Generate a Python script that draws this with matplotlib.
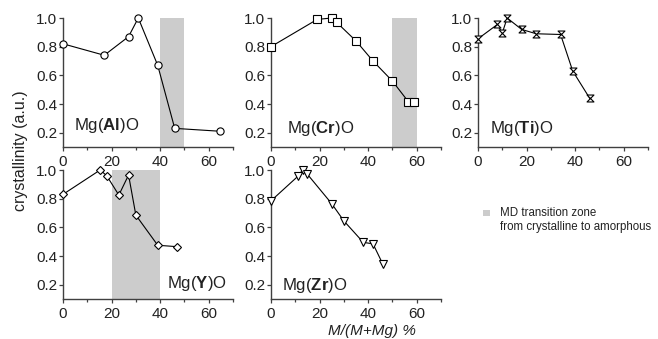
import matplotlib
matplotlib.use('Agg')
import matplotlib.pyplot as plt
from matplotlib.path import Path
from matplotlib.patches import Rectangle
from matplotlib.ticker import MultipleLocator

plt.rcParams['font.family'] = ['Liberation Sans', 'DejaVu Sans']
plt.rcParams['mathtext.fontset'] = 'custom'
plt.rcParams['mathtext.rm'] = 'Liberation Sans'
plt.rcParams['mathtext.bf'] = 'Liberation Sans:bold'
plt.rcParams['mathtext.it'] = 'Liberation Sans:italic'

# ---- data ----
al_x = [0, 17, 27, 31, 39, 46, 64.5]
al_y = [0.82, 0.74, 0.87, 1.0, 0.67, 0.23, 0.21]
cr_x = [0, 19, 25, 27, 35, 42, 50, 56.6, 58.8]
cr_y = [0.80, 0.99, 1.0, 0.97, 0.84, 0.70, 0.56, 0.415, 0.415]
ti_x = [0, 8, 10, 12, 18, 24, 34, 39, 46]
ti_y = [0.855, 0.955, 0.895, 1.0, 0.92, 0.89, 0.885, 0.63, 0.44]
y_x = [0, 15.3, 18, 23, 27, 30, 39, 47]
y_y = [0.83, 1.0, 0.96, 0.825, 0.965, 0.685, 0.475, 0.465]
zr_x = [0, 11, 13, 15, 25, 30, 38, 42, 46]
zr_y = [0.785, 0.955, 1.0, 0.97, 0.765, 0.645, 0.495, 0.485, 0.345]

al_zone = (40, 50)
cr_zone = (50, 60)
y_zone = (20, 40)

x_ticks = [0, 20, 40, 60]
y_ticks = [0.2, 0.4, 0.6, 0.8, 1.0]
y_ticklabels = ['0.2', '0.4', '0.6', '0.8', '1.0']

labels = [r'Mg($\mathbf{Al}$)O', r'Mg($\mathbf{Cr}$)O', r'Mg($\mathbf{Ti}$)O',
          r'Mg($\mathbf{Y}$)O', r'Mg($\mathbf{Zr}$)O']

hourglass = Path([(-1, 1), (1, 1), (-1, -1), (1, -1), (-1, 1)],
                 [Path.MOVETO, Path.LINETO, Path.LINETO, Path.LINETO, Path.CLOSEPOLY])

W, H = 658, 339
fig = plt.figure(figsize=(W / 100, H / 100), dpi=100)

def fx(px):
    return px / W

def fy(py):
    return 1 - py / H

axw = 170 / W
top_b, top_t = fy(147), fy(18)
bot_b, bot_t = fy(299), fy(170)
lefts = [fx(63), fx(271), fx(478)]

panels = [
    (lefts[0], top_b, top_t, al_x, al_y, 'o', 5.2, al_zone, labels[0], 4.5, 0.216),
    (lefts[1], top_b, top_t, cr_x, cr_y, 's', 5.2, cr_zone, labels[1], 6.6, 0.198),
    (lefts[2], top_b, top_t, ti_x, ti_y, hourglass, 5.0, None, labels[2], 4.9, 0.198),
    (lefts[0], bot_b, bot_t, y_x, y_y, 'D', 4.2, y_zone, labels[3], 42.7, 0.177),
    (lefts[1], bot_b, bot_t, zr_x, zr_y, 'v', 5.6, None, labels[4], 4.5, 0.166),
]

axc = '#404040'
txtc = '#222222'
for (l, b, t, xs, ys, mk, ms, zone, lab, lx, ly) in panels:
    ax = fig.add_axes([l, b, axw, t - b])
    ax.set_xlim(0, 70)
    ax.set_ylim(0.1, 1.0)
    if zone is not None:
        ax.axvspan(zone[0], zone[1], ymin=0, ymax=1, color='#cccccc', lw=0, zorder=0)
    ax.plot(xs, ys, color='black', lw=0.8, marker=mk, ms=ms, mfc='white',
            mec='black', mew=0.8, clip_on=False, zorder=3)
    ax.text(lx, ly, lab, fontsize=12.1, color=txtc, ha='left', va='baseline')
    for s in ['top', 'right']:
        ax.spines[s].set_visible(False)
    for s in ['left', 'bottom']:
        ax.spines[s].set_color(axc)
        ax.spines[s].set_linewidth(1.0)
    ax.set_xticks(x_ticks)
    ax.xaxis.set_minor_locator(MultipleLocator(10))
    ax.set_yticks(y_ticks)
    ax.set_yticklabels(y_ticklabels)
    ax.tick_params(axis='both', which='major', direction='out', length=3, width=0.9,
                   color=axc, labelsize=11, labelcolor=txtc)
    ax.tick_params(axis='x', which='major', pad=3)
    ax.tick_params(axis='y', which='major', pad=1)
    ax.tick_params(axis='x', which='minor', direction='out', length=2.5, width=0.9, color=axc)
    ax.patch.set_alpha(0)

fig.text(fx(21), fy(151), 'crystallinity (a.u.)', rotation=90, ha='center', va='center',
         fontsize=11.5, color=txtc)
fig.text(fx(372), fy(331), 'M/(M+Mg) %', style='italic', ha='center', va='center',
         fontsize=11, color=txtc)

fig.patches.append(Rectangle((fx(483), fy(216)), fx(7), 6 / H, transform=fig.transFigure,
                             facecolor='#cccccc', edgecolor='none'))
fig.text(fx(500), fy(207), 'MD transition zone\nfrom crystalline to amorphous',
         ha='left', va='top', fontsize=8.3, color=txtc, linespacing=1.2,
         transform=fig.transFigure)

fig.savefig('out.png', dpi=100)
